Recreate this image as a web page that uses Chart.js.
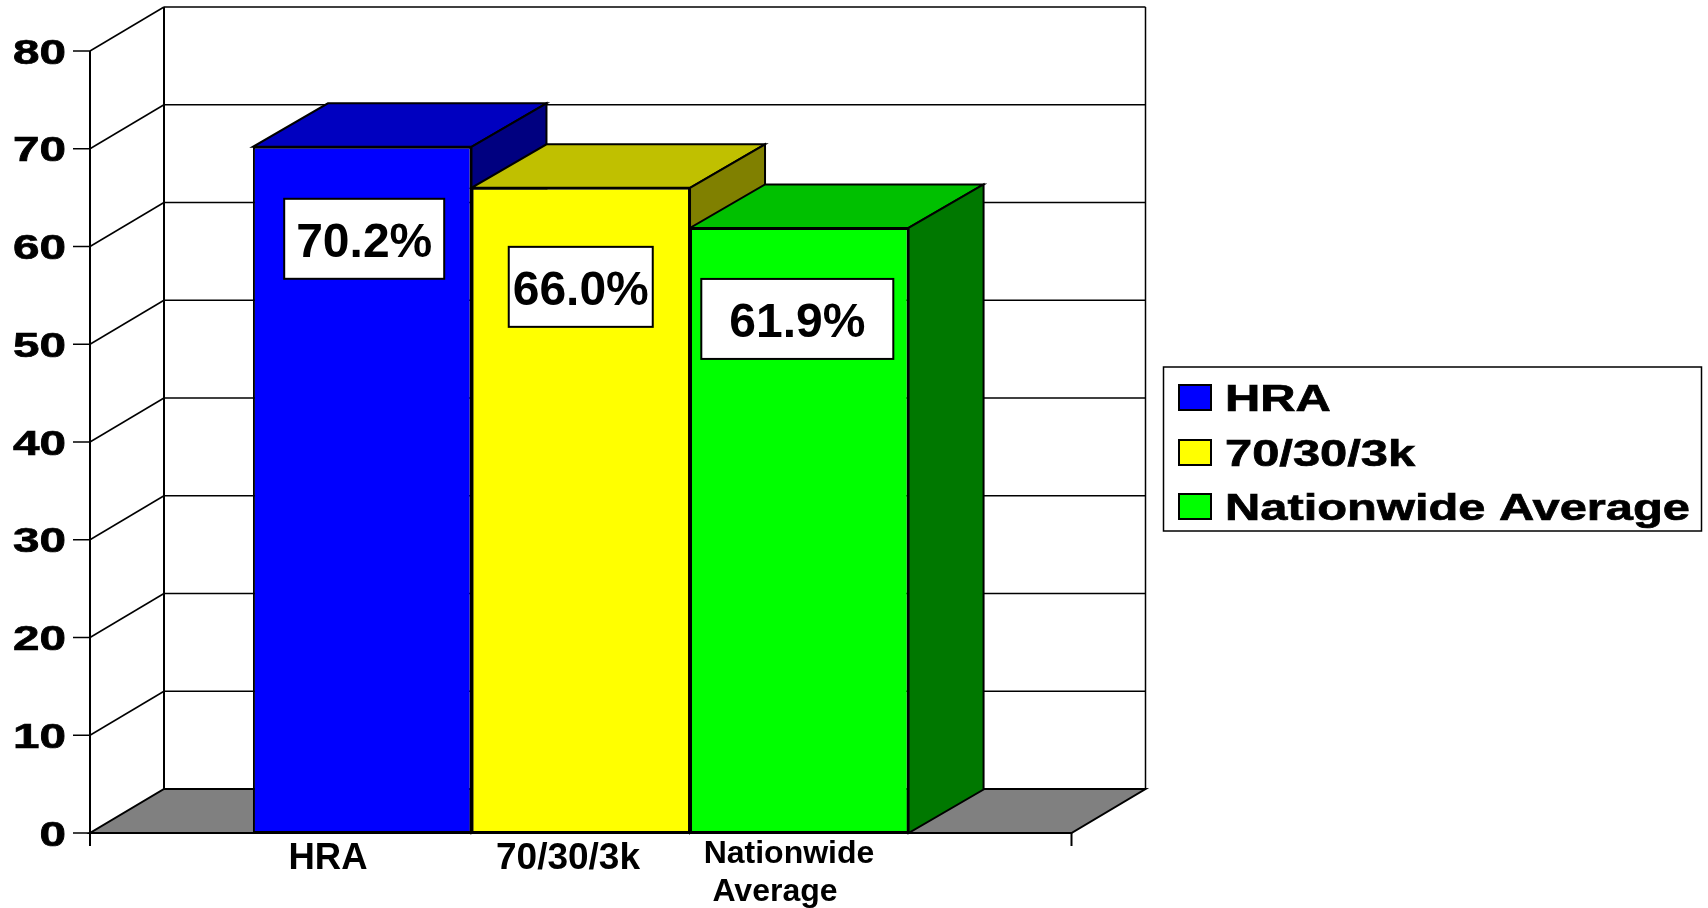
<!DOCTYPE html>
<html>
<head>
<meta charset="utf-8">
<title>HRA 70/30/3k Nationwide Average</title>
<script src="https://cdn.jsdelivr.net/npm/chart.js@4"></script>
<style>
    html, body { margin: 0; padding: 0; background: #fff; }
    canvas { display: block; }
</style>
</head>
<body>
<canvas id="barChart" width="1708" height="908"></canvas>
<script>
const seriesNames = ["HRA", "70/30/3k", "Nationwide Average"];
const seriesValues = [70.2, 66.0, 61.9];
const yTicks = [0, 10, 20, 30, 40, 50, 60, 70, 80];
const axisLabels = [["HRA"], ["70/30/3k"], ["Nationwide", "Average"]];

const frontColors = ["#0000ff", "#ffff00", "#00ff00"];
const topColors = ["#0000c0", "#c0c000", "#00c000"];
const sideColors = ["#000080", "#808000", "#007800"];

const FONT = '"Liberation Sans", Arial, sans-serif';
const WALL = { dx: 74, dy: 44 };
const BAR_DEPTH = { dx: 75, dy: 43.5 };
const TICK_STRETCH = 1.36;
const LEGEND_STRETCH = 1.32;

// hand placed text boxes, relative to the bar centre and bar top
const valueBoxes = [
    { dx: 2, dy: 52, w: 160, h: 80, base: 58 },
    { dx: 0, dy: 59, w: 144, h: 80, base: 58 },
    { dx: -2, dy: 51, w: 192, h: 80, base: 58 }
];
const axisLabelPlaces = [
    { size: 36.5, lines: [[328, 869]] },
    { size: 37, lines: [[568, 869]] },
    { size: 32, lines: [[789, 863], [775, 901]] }
];
const legendBox = { x: 1163.5, y: 367, w: 538, h: 164 };
const legendRows = [385, 440, 494];

function polygon(ctx, points, fill, lineWidth) {
    ctx.beginPath();
    points.forEach((p, i) => i ? ctx.lineTo(p[0], p[1]) : ctx.moveTo(p[0], p[1]));
    ctx.closePath();
    if (fill) {
        ctx.fillStyle = fill;
        ctx.fill();
    }
    ctx.lineWidth = lineWidth || 2;
    ctx.strokeStyle = "#000";
    ctx.lineJoin = "miter";
    ctx.stroke();
}

function line(ctx, x1, y1, x2, y2, width) {
    ctx.beginPath();
    ctx.moveTo(x1, y1);
    ctx.lineTo(x2, y2);
    ctx.lineWidth = width;
    ctx.strokeStyle = "#000";
    ctx.stroke();
}

// bold text pulled wider than the font, with a thin outline to keep the weight
function wideText(ctx, text, x, y, font, stretch, align) {
    ctx.save();
    ctx.translate(x, y);
    ctx.scale(stretch, 1);
    ctx.font = font;
    ctx.textAlign = align;
    ctx.textBaseline = "alphabetic";
    ctx.fillStyle = "#000";
    ctx.fillText(text, 0, 0);
    if (stretch > 1) {
        ctx.lineWidth = 0.7;
        ctx.strokeStyle = "#000";
        ctx.strokeText(text, 0, 0);
    }
    ctx.restore();
}

// floor, back wall, side wall and the grid that runs over both walls
const wallsPlugin = {
    id: "walls",
    beforeDatasetsDraw(chart) {
        const ctx = chart.ctx;
        const y = chart.scales.y;
        const left = chart.chartArea.left;
        const right = chart.chartArea.right;
        const zero = y.getPixelForValue(0);
        const backLeft = left + WALL.dx;
        const backRight = right + WALL.dx;

        ctx.save();
        polygon(ctx, [
            [left, zero],
            [right, zero],
            [backRight, zero - WALL.dy],
            [backLeft, zero - WALL.dy]
        ], "#808080", 2);

        yTicks.forEach(v => {
            const py = y.getPixelForValue(v);
            if (v > 0) {
                line(ctx, left, py, backLeft, py - WALL.dy, 1.5);
                line(ctx, backLeft, py - WALL.dy, backRight, py - WALL.dy, 1.5);
            }
            line(ctx, left - 17, py, left, py, 1.5);
        });

        const top = y.getPixelForValue(80);
        line(ctx, backLeft, top - WALL.dy, backLeft, zero - WALL.dy, 2);
        line(ctx, backRight, top - WALL.dy, backRight, zero - WALL.dy, 1.5);
        ctx.restore();
    },
    afterDatasetsDraw(chart) {
        const ctx = chart.ctx;
        const y = chart.scales.y;
        const left = chart.chartArea.left;
        const right = chart.chartArea.right;
        const zero = y.getPixelForValue(0);

        ctx.save();
        line(ctx, left, y.getPixelForValue(80), left, zero + 13, 2);
        line(ctx, left, zero, right, zero, 2);
        line(ctx, right, zero, right, zero + 13, 2);

        yTicks.forEach(v => {
            wideText(ctx, String(v), 66, y.getPixelForValue(v) + 12.5, "bold 35px " + FONT, TICK_STRETCH, "right");
        });

        axisLabels.forEach((lines, i) => {
            const place = axisLabelPlaces[i];
            lines.forEach((text, n) => {
                wideText(ctx, text, place.lines[n][0], place.lines[n][1], "bold " + place.size + "px " + FONT, 1, "center");
            });
        });

        // value boxes sitting on the bar fronts
        seriesValues.forEach((value, i) => {
            const bar = chart.getDatasetMeta(i).data[0];
            const box = valueBoxes[i];
            const cx = bar.x + box.dx;
            const by = bar.y + box.dy;
            ctx.fillStyle = "#fff";
            ctx.fillRect(cx - box.w / 2, by, box.w, box.h);
            ctx.lineWidth = 2;
            ctx.strokeStyle = "#000";
            ctx.strokeRect(cx - box.w / 2, by, box.w, box.h);
            wideText(ctx, value.toFixed(1) + "%", cx, by + box.base, "bold 48px " + FONT, 1, "center");
        });

        // legend
        ctx.fillStyle = "#fff";
        ctx.fillRect(legendBox.x, legendBox.y, legendBox.w, legendBox.h);
        ctx.lineWidth = 1.5;
        ctx.strokeStyle = "#000";
        ctx.strokeRect(legendBox.x, legendBox.y, legendBox.w, legendBox.h);
        seriesNames.forEach((name, i) => {
            const rowY = legendRows[i];
            ctx.fillStyle = frontColors[i];
            ctx.fillRect(1179, rowY, 32, 25);
            ctx.lineWidth = 2;
            ctx.strokeStyle = "#000";
            ctx.strokeRect(1179, rowY, 32, 25);
            wideText(ctx, name, 1225, rowY + 26, "bold 37px " + FONT, LEGEND_STRETCH, "left");
        });
        ctx.restore();
    }
};

// top and side faces, left to right so the later bars cover the earlier sides
const barDepthPlugin = {
    id: "barDepth",
    beforeDatasetsDraw(chart) {
        const ctx = chart.ctx;
        const dx = BAR_DEPTH.dx;
        const dy = BAR_DEPTH.dy;
        ctx.save();
        seriesValues.forEach((value, i) => {
            const bar = chart.getDatasetMeta(i).data[0];
            const l = bar.x - bar.width / 2;
            const r = bar.x + bar.width / 2;
            polygon(ctx, [[l, bar.y], [r, bar.y], [r + dx, bar.y - dy], [l + dx, bar.y - dy]], topColors[i], 2);
            polygon(ctx, [[r, bar.y], [r + dx, bar.y - dy], [r + dx, bar.base - dy], [r, bar.base]], sideColors[i], 2);
        });
        ctx.restore();
    }
};

const ctx = document.getElementById("barChart").getContext("2d");
new Chart(ctx, {
    type: "bar",
    data: {
        labels: [""],
        datasets: seriesNames.map((name, i) => ({
            label: name,
            data: [seriesValues[i]],
            backgroundColor: frontColors[i],
            borderColor: "#000",
            borderWidth: 2,
            borderSkipped: false,
            barPercentage: 1,
            categoryPercentage: 0.668
        }))
    },
    options: {
        responsive: false,
        animation: false,
        layout: { padding: { left: 90, right: 636.5, top: 51, bottom: 75 } },
        plugins: {
            legend: { display: false },
            tooltip: { enabled: false },
            title: { display: false }
        },
        scales: {
            x: {
                grid: { display: false, drawTicks: false },
                border: { display: false },
                ticks: { display: false }
            },
            y: {
                min: 0,
                max: 80,
                grid: { display: false, drawTicks: false },
                border: { display: false },
                ticks: { display: false, stepSize: 10 }
            }
        }
    },
    plugins: [wallsPlugin, barDepthPlugin]
});
</script>
</body>
</html>
